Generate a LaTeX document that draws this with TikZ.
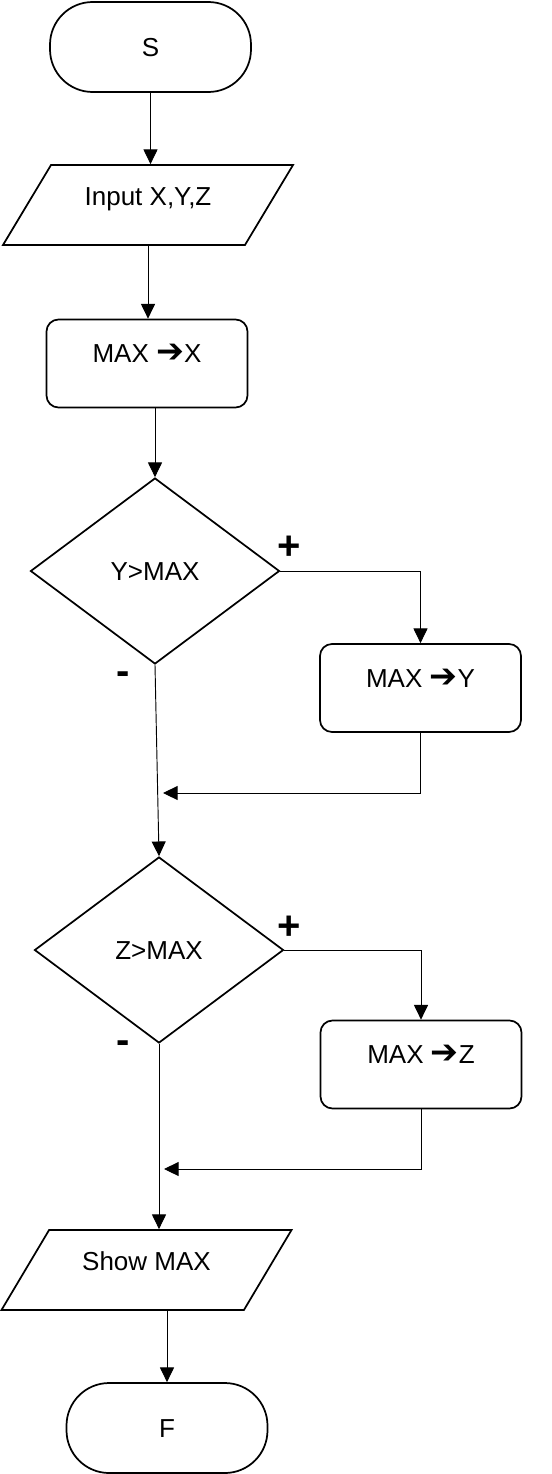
\documentclass[tikz,border=0pt]{standalone}
\usepackage{fontspec}
\setmainfont{Liberation Sans}
\newfontfamily\arrowfont{DejaVu Sans}
\usetikzlibrary{shapes.geometric, arrows.meta}

\newcommand{\goesto}{{\arrowfont\fontsize{25}{25}\selectfont ➔}}

\tikzset{
  terminal/.style = {draw, line width=1.3pt, rounded corners=32pt, minimum width=150.75pt, minimum height=67.5pt, text height=14pt, text depth=0pt},
  process/.style = {draw, line width=1.3pt, rounded corners=9pt, minimum width=150.75pt, minimum height=66pt, text height=14pt, text depth=15pt},
  io/.style = {draw, line width=1.3pt, trapezium, trapezium left angle=54, trapezium right angle=126, trapezium stretches, minimum width=218pt, minimum height=60pt, text height=14pt, text depth=14pt},
  decision/.style = {draw, line width=1.3pt, diamond, minimum width=186.75pt, minimum height=139.5pt, text height=14pt, text depth=0pt},
  link/.style = {line width=0.7pt, -{Triangle[width=10.5pt, length=11pt]}},
  sign/.style = {font=\fontsize{30}{30}\selectfont\bfseries},
}

\begin{document}
\begin{tikzpicture}[x=0.75pt, y=-0.75pt, font=\fontsize{19.5}{23}\selectfont]
\useasboundingbox (0,0) rectangle (551,1474);
% main column
\node[terminal] (s) at (150.5,47) {S};
\node[io] (in) at (148,205) {Input X,Y,Z};
\node[process] (maxx) at (147,363.5) {MAX \goesto X};
\node[decision] (d1) at (155,571) {Y>MAX};
\node[decision] (d2) at (159,950) {Z>MAX};
\node[io] (show) at (146.5,1270) {Show MAX};
\node[terminal] (f) at (167,1428) {F};
% branches
\node[process] (maxy) at (420.5,688) {MAX \goesto Y};
\node[process] (maxz) at (421,1064.5) {MAX \goesto Z};
\node[sign] (p1) at (289,548) {+};
\node[sign] (m1) at (123,678) {-};
\node[sign] (p2) at (289,928) {+};
\node[sign] (m2) at (123,1047) {-};
\coordinate (j1) at (163,793);
\coordinate (j2) at (164,1169);
% connectors
\draw[link] (s.south) -- (s.south |- in.north);
\draw[link] (in.south) -- (in.south |- maxx.north);
\draw[link] (d1.north |- maxx.south) -- (d1.north);
\draw[link] (d1.east) -- (d1.east -| maxy.north) -- (maxy.north);
\draw[link] (maxy.south) |- (j1);
\draw[link] (d1.south) -- (d2.north);
\draw[link] (d2.east) -- (d2.east -| maxz.north) -- (maxz.north);
\draw[link] (maxz.south) |- (j2);
\draw[link] (d2.south) -- (d2.south |- show.north);
\draw[link] (f.north |- show.south) -- (f.north);
\end{tikzpicture}
\end{document}
